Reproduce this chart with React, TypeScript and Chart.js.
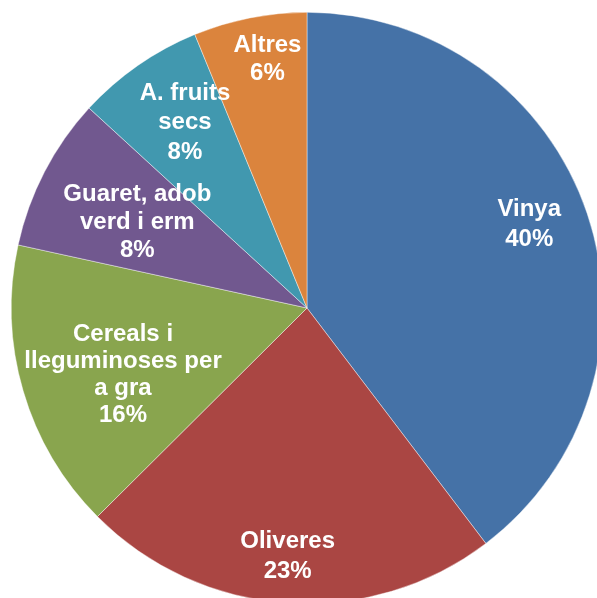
import React, { useEffect, useRef } from "react";
import { Chart, registerables } from "chart.js";

Chart.register(...registerables);

const categories = [
  ["Vinya"],
  ["Oliveres"],
  ["Cereals i", "lleguminoses per", "a gra"],
  ["Guaret, adob", "verd i erm"],
  ["A. fruits", "secs"],
  ["Altres"],
];
const values = [39.7, 22.9, 15.9, 8.4, 7.0, 6.2];
const percentLabels = ["40%", "23%", "16%", "8%", "8%", "6%"];
const colors = ["#4572A7", "#AA4643", "#89A54E", "#71588F", "#4198AF", "#DB843D"];
// label placement relative to each arc: fraction of radius, angular nudge (deg)
const labelRadius = [0.803, 0.842, 0.662, 0.643, 0.75, 0.851];
const labelAngleNudge = [-2.0, 0.5, -3.7, -0.6, 1.5, 2.1];
const lineHeights = [30.4, 30.3, 26.8, 28, 29.5, 27.7];

const labelPlugin = {
  id: "pieLabels",
  afterDatasetsDraw(chart: any) {
    const ctx = chart.ctx;
    const meta = chart.getDatasetMeta(0);
    ctx.save();
    ctx.fillStyle = "#ffffff";
    ctx.font = "bold 24px 'Liberation Sans', Arial, sans-serif";
    ctx.textAlign = "center";
    ctx.textBaseline = "middle";
    meta.data.forEach((arc: any, i: number) => {
      const { x, y, startAngle, endAngle, outerRadius } = arc.getProps(
        ["x", "y", "startAngle", "endAngle", "outerRadius"],
        true
      );
      const mid = (startAngle + endAngle) / 2 + (labelAngleNudge[i] * Math.PI) / 180;
      const r = outerRadius * labelRadius[i];
      const cx = x + Math.cos(mid) * r;
      const cy = y + Math.sin(mid) * r;
      const lines = [...categories[i], percentLabels[i]];
      const L = lineHeights[i];
      lines.forEach((t, j) => {
        const ly = cy + (j - (lines.length - 1) / 2) * L;
        ctx.fillText(t, cx, ly);
      });
    });
    ctx.restore();
  },
};

export default function App() {
  const ref = useRef<HTMLCanvasElement | null>(null);
  useEffect(() => {
    if (!ref.current) return;
    const chart = new Chart(ref.current, {
      type: "pie",
      data: {
        labels: categories.map((c) => c.join(" ")),
        datasets: [
          {
            data: values,
            backgroundColor: colors,
            borderColor: "rgba(255,255,255,0.7)",
            borderWidth: 0.6,
          },
        ],
      },
      options: {
        responsive: false,
        animation: false,
        layout: { padding: { left: 11, right: 11, top: 12, bottom: 12 } },
        plugins: {
          legend: { display: false },
          tooltip: { enabled: false },
        },
      },
      plugins: [labelPlugin],
    });
    return () => chart.destroy();
  }, []);
  return (
    <div
      style={{
        position: "fixed",
        left: 0,
        top: 0,
        width: 597,
        height: 598,
        overflow: "hidden",
        background: "#ffffff",
      }}
    >
      <canvas ref={ref} width={614} height={616} style={{ display: "block" }} />
    </div>
  );
}
